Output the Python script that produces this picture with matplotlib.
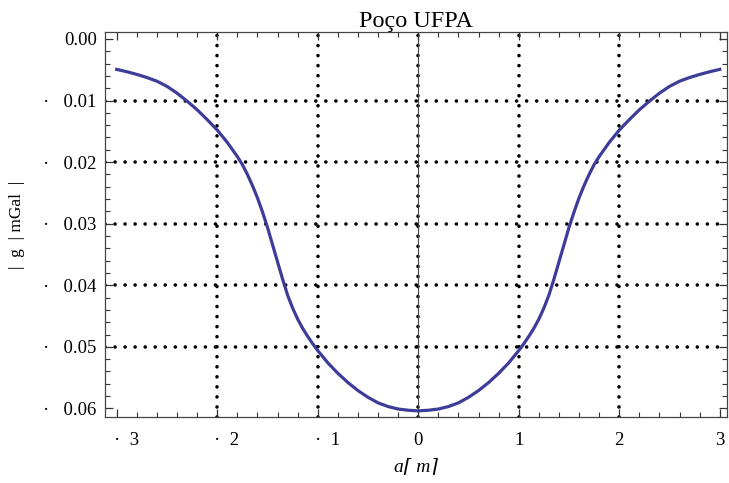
import matplotlib
matplotlib.use("Agg")
import matplotlib.pyplot as plt
from matplotlib.ticker import MultipleLocator, FixedLocator
import matplotlib.transforms as mtransforms

plt.rcParams['font.family'] = ['Liberation Serif', 'DejaVu Serif']

# posição (m) e anomalia (mGal)
a_m = [-3.0, -2.9, -2.8, -2.7, -2.6, -2.5, -2.4, -2.3, -2.2, -2.1, -2.0, -1.9,
       -1.8, -1.75, -1.7, -1.65, -1.6, -1.55, -1.5, -1.45, -1.4, -1.35, -1.3,
       -1.25, -1.2, -1.15, -1.1, -1.05, -1.0, -0.9, -0.8, -0.7, -0.6, -0.5,
       -0.4, -0.3, -0.2, -0.1, 0.0,
       0.1, 0.2, 0.3, 0.4, 0.5, 0.6, 0.7, 0.8, 0.9, 1.0, 1.05, 1.1, 1.15, 1.2,
       1.25, 1.3, 1.35, 1.4, 1.45, 1.5, 1.55, 1.6, 1.65, 1.7, 1.75, 1.8, 1.9,
       2.0, 2.1, 2.2, 2.3, 2.4, 2.5, 2.6, 2.7, 2.8, 2.9, 3.0]
dg = [-0.00494, -0.00532, -0.00576, -0.00626, -0.00686, -0.00770, -0.00880,
      -0.01010, -0.01150, -0.01310, -0.01480, -0.01680, -0.01910, -0.02040,
      -0.02200, -0.02380, -0.02580, -0.02810, -0.03060, -0.03340, -0.03620,
      -0.03900, -0.04160, -0.04370, -0.04550, -0.04700, -0.04830, -0.04950,
      -0.05060, -0.05260, -0.05430, -0.05580, -0.05710, -0.05820, -0.05910,
      -0.05970, -0.06010, -0.06030, -0.06040,
      -0.06030, -0.06010, -0.05970, -0.05910, -0.05820, -0.05710, -0.05580,
      -0.05430, -0.05260, -0.05060, -0.04950, -0.04830, -0.04700, -0.04550,
      -0.04370, -0.04160, -0.03900, -0.03620, -0.03340, -0.03060, -0.02810,
      -0.02580, -0.02380, -0.02200, -0.02040, -0.01910, -0.01680, -0.01480,
      -0.01310, -0.01150, -0.01010, -0.00880, -0.00770, -0.00686, -0.00626,
      -0.00576, -0.00532, -0.00494]

x_ticks = [-3, -2, -1, 0, 1, 2, 3]
x_labels = ['·  3', '·  2', '·  1', '0', '1', '2', '3']
y_ticks = [0.0, -0.01, -0.02, -0.03, -0.04, -0.05, -0.06]
y_labels = ['0.00', '·   0.01', '·   0.02', '·   0.03', '·   0.04', '·   0.05', '·   0.06']
x_grid = [-2, -1, 0, 1, 2]
y_grid = [-0.01, -0.02, -0.03, -0.04, -0.05]

fig = plt.figure(figsize=(7.29, 4.83), dpi=100)
ax = fig.add_axes([0.144, 0.1366, 0.853, 0.797])

# grade pontilhada
for xv in x_grid:
    ax.axvline(xv, color='black', lw=2.6, dashes=(0.01, 2.77), dash_capstyle='round', zorder=1)
for yv in y_grid:
    ax.axhline(yv, color='black', lw=2.6, dashes=(0.01, 2.77), dash_capstyle='round', zorder=1)
ax.axvline(0, color='#444444', lw=0.8, zorder=1)

ax.plot(a_m, dg, color='#3d3d99', lw=2.3, solid_joinstyle='round', zorder=3)

ax.set_xlim(-3.117, 3.07)
ax.set_ylim(-0.0614, 0.00112)

ax.xaxis.set_major_locator(FixedLocator(x_ticks))
ax.set_xticklabels(x_labels)
ax.xaxis.set_minor_locator(MultipleLocator(0.2))
ax.yaxis.set_major_locator(FixedLocator(y_ticks))
ax.set_yticklabels(y_labels)
ax.yaxis.set_minor_locator(MultipleLocator(0.002))

ax.tick_params(which='both', direction='in', top=True, right=True, colors='#333333',
               labelcolor='black', labelsize=13.5)
ax.tick_params(which='major', length=6, width=0.9)
ax.tick_params(which='minor', length=3.5, width=0.8)
ax.tick_params(axis='x', pad=11)
ax.tick_params(axis='y', pad=6)

# desloca os rótulos negativos para o dígito ficar sob o traço
off = mtransforms.ScaledTranslation(7 / 72, 0, fig.dpi_scale_trans)
for lab, v in zip(ax.get_xticklabels(), x_ticks):
    if v < 0:
        lab.set_transform(lab.get_transform() + off)

for s in ax.spines.values():
    s.set_color('#444444')
    s.set_linewidth(0.9)

ax.set_title('Poço UFPA', fontsize=17.5, pad=3)
ax.set_xlabel('a⌈ m⌉', fontsize=14, fontstyle='italic', labelpad=6)
ax.set_ylabel('|  g  | mGal  |', fontsize=12.5, labelpad=13)

fig.savefig('out.png', dpi=100)
